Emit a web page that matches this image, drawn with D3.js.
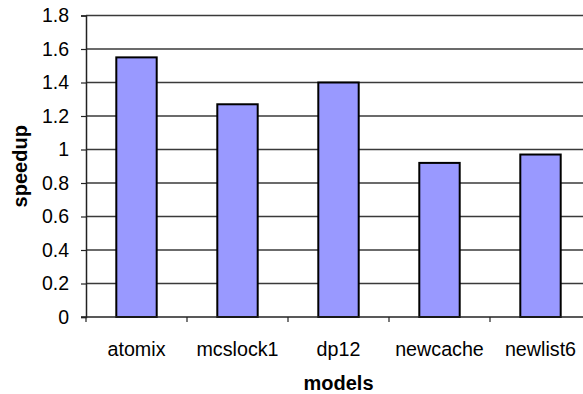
<!DOCTYPE html>
<html>
<head>
<meta charset="utf-8">
<script src="https://cdn.jsdelivr.net/npm/d3@7"></script>
<style>
  html, body { margin: 0; padding: 0; background: #fff; }
  svg { display: block; }
  text { font-family: "Liberation Sans", Arial, sans-serif; fill: #000; }
</style>
</head>
<body>
<svg id="chart" width="583" height="394"></svg>
<script>
// Speedup per model
const models = ["atomix", "mcslock1", "dp12", "newcache", "newlist6"];
const speedup = [1.55, 1.27, 1.40, 0.92, 0.97];
const yTicks = [0, 0.2, 0.4, 0.6, 0.8, 1, 1.2, 1.4, 1.6, 1.8];

const svg = d3.select("#chart");
const plot = { left: 86, right: 591, top: 15.5, bottom: 317 };

const x = d3.scaleBand()
  .domain(models)
  .range([plot.left, plot.right])
  .paddingInner(0.6)
  .paddingOuter(0.3);

const y = d3.scaleLinear()
  .domain([0, 1.8])
  .range([plot.bottom, plot.top]);

// horizontal gridlines
svg.append("g")
  .selectAll("line")
  .data(yTicks.filter(d => d > 0))
  .join("line")
  .attr("x1", plot.left)
  .attr("x2", plot.right)
  .attr("y1", d => y(d))
  .attr("y2", d => y(d))
  .attr("stroke", "#3a3a3a")
  .attr("stroke-width", 1.3);

// bars
svg.append("g")
  .selectAll("rect")
  .data(models)
  .join("rect")
  .attr("x", d => x(d))
  .attr("width", x.bandwidth())
  .attr("y", (d, i) => y(speedup[i]))
  .attr("height", (d, i) => y(0) - y(speedup[i]))
  .attr("fill", "#9999ff")
  .attr("stroke", "#000")
  .attr("stroke-width", 2);

// y axis
const yAxis = d3.axisLeft(y)
  .tickValues(yTicks)
  .tickFormat(d => String(d))
  .tickSize(5)
  .tickPadding(12);
const gy = svg.append("g")
  .attr("transform", `translate(${plot.left},0)`)
  .call(yAxis);
gy.select(".domain").attr("stroke", "#222").attr("stroke-width", 1.5);
gy.selectAll(".tick line").attr("stroke", "#222").attr("stroke-width", 1.2);
gy.selectAll(".tick text")
  .attr("font-size", 19.5)
  .attr("font-family", "Liberation Sans, Arial, sans-serif")
  .attr("fill", "#000");

// x axis: ticks sit on category boundaries
const boundaries = d3.range(models.length + 1)
  .map(i => plot.left + i * (plot.right - plot.left) / models.length);
const gx = svg.append("g");
gx.append("line")
  .attr("x1", plot.left - 5).attr("x2", plot.right)
  .attr("y1", plot.bottom).attr("y2", plot.bottom)
  .attr("stroke", "#222").attr("stroke-width", 1.5);
gx.selectAll("line.tick")
  .data(boundaries)
  .join("line")
  .attr("class", "tick")
  .attr("x1", d => d).attr("x2", d => d)
  .attr("y1", plot.bottom).attr("y2", plot.bottom + 5)
  .attr("stroke", "#222").attr("stroke-width", 1.2);
gx.selectAll("text")
  .data(models)
  .join("text")
  .attr("x", d => x(d) + x.bandwidth() / 2)
  .attr("y", 355.5)
  .attr("text-anchor", "middle")
  .attr("font-size", 19.7)
  .text(d => d);

// axis titles
svg.append("text")
  .attr("x", (plot.left + plot.right) / 2)
  .attr("y", 390)
  .attr("text-anchor", "middle")
  .attr("font-size", 20)
  .attr("font-weight", "bold")
  .text("models");

svg.append("text")
  .attr("transform", `translate(27,${(plot.top + plot.bottom) / 2}) rotate(-90)`)
  .attr("text-anchor", "middle")
  .attr("font-size", 20)
  .attr("font-weight", "bold")
  .text("speedup");
</script>
</body>
</html>
